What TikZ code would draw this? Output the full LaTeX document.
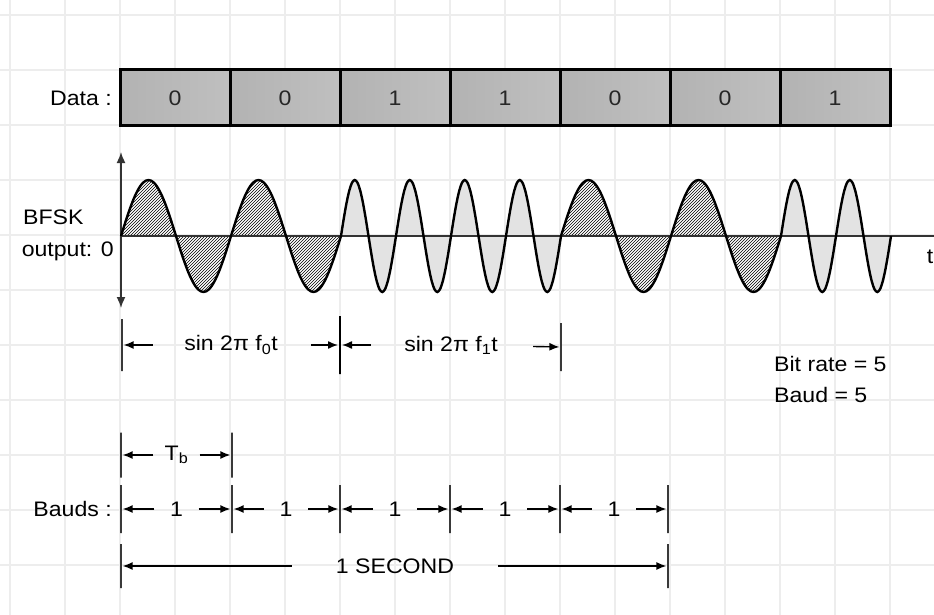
\documentclass[tikz,border=0pt]{standalone}
\usepackage{fontspec}
\setmainfont{Liberation Sans}[FakeStretch=1.1]
\usetikzlibrary{arrows.meta,patterns,calc,positioning}

\tikzset{
  txt/.style={font=\fontsize{21}{24}\selectfont, inner sep=0pt},
  gridline/.style={gray!14, line width=1.2pt},
  bitbox/.style={draw, line width=3pt, minimum width=110pt, minimum height=56pt,
    left color=gray!60, middle color=white, right color=gray!50,
    text=gray!30!black, font=\fontsize{21}{24}\selectfont},
  wave/.style={line width=2.4pt, black},
  lowlobe/.style={pattern=north east lines},
  highlobe/.style={fill=gray!22},
  axis/.style={line width=1.6pt, gray!40!black},
  tickbar/.style={draw, gray!45!black, line width=1.3pt, minimum width=0pt, inner sep=0pt},
  dim/.style={-{Latex[length=10pt,width=8pt]}, line width=1.4pt, shorten >=1pt}
}

\begin{document}
\begin{tikzpicture}[x=1pt,y=-1pt]
\useasboundingbox (0,0) rectangle (934,615);
\fill[white] (0,0) rectangle (934,615);

% background grid
\foreach \gx in {10,65,...,890} \draw[gridline] (\gx,0) -- (\gx,615);
\foreach \gy in {15,70,...,600} \draw[gridline] (0,\gy) -- (934,\gy);

% data bits
\node[txt, anchor=east] (datalbl) at (112,98) {Data :};
\foreach \b [count=\i from 0] in {0,0,1,1,0,0,1}
  \node[bitbox] (d\i) at (175+110*\i,98) {\b};

% BFSK waveform
\foreach \b [count=\i from 0] in {0,0,1,1,0,0,1} {
  \pgfmathsetmacro{\xk}{121+110*\i}
  \pgfmathsetmacro{\nc}{\b+1}
  \ifnum\b=0 \def\lobe{lowlobe}\else\def\lobe{highlobe}\fi
  \path[\lobe] plot[domain=0:110,samples=41,smooth] ({\xk+\x},{236-56*sin(\x/110*360*\nc)}) -- cycle;
}
\coordinate (o) at (121,236);
\coordinate (ytop) at (121,152);
\coordinate (ybot) at (121,308);
\coordinate (tend) at (934,236);
\draw[axis, {Latex[length=11pt,width=9pt]}-{Latex[length=11pt,width=9pt]}] (ybot) -- (ytop);
\draw[axis] (o) -- (tend);
\foreach \b [count=\i from 0] in {0,0,1,1,0,0,1} {
  \pgfmathsetmacro{\xk}{121+110*\i}
  \pgfmathsetmacro{\nc}{\b+1}
  \draw[wave] plot[domain=0:110,samples=41,smooth] ({\xk+\x},{236-56*sin(\x/110*360*\nc)});
}
\node[txt] (tlbl) at (930,257) {t};
\node[txt, anchor=west] (bfsk) at (23,217) {BFSK};
\node[txt, anchor=east] (outlbl) at (114,251) {output: 0};

% carrier intervals
\node[tickbar, minimum height=52pt] (k0) at (122,345) {};
\node[tickbar, minimum height=58pt, line width=2pt, black] (k1) at (340,345) {};
\node[tickbar, minimum height=48pt] (k2) at (561,347) {};
\node[txt, minimum width=110pt] (f0) at (231,345) {sin 2π f\textsubscript{0}t};
\node[txt, minimum width=110pt] (f1) at (451,345) {sin 2π f\textsubscript{1}t};
\draw[dim, shorten <=23pt] (f0) -- (k0);
\draw[dim, shorten <=25pt] (f0) -- (k1);
\draw[dim, shorten <=25pt] (f1) -- (k1);
\draw[dim, shorten <=27pt] (f1) -- (k2);

\node[txt, anchor=west] (bitrate) at (774,364) {Bit rate = 5};
\node[txt, anchor=west] (baud) at (774,395) {Baud = 5};

% bit time
\node[tickbar, minimum height=45pt] (tb0) at (121,455) {};
\node[tickbar, minimum height=45pt] (tb1) at (232,455) {};
\node[txt, minimum width=46pt] (tb) at ($(tb0)!0.5!(tb1)$) {T\textsubscript{b}};
\draw[dim] (tb) -- (tb0);
\draw[dim] (tb) -- (tb1);

% bauds
\node[txt, anchor=east] (baudslbl) at (112,509) {Bauds :};
\foreach \xt [count=\i from 0] in {121,232,340,450,560,668}
  \node[tickbar, minimum height=48pt] (b\i) at (\xt,509) {};
\foreach \i/\j in {0/1,1/2,2/3,3/4,4/5} {
  \node[txt, minimum width=44pt] (u\i) at ($(b\i)!0.5!(b\j)$) {1};
  \draw[dim] (u\i) -- (b\i);
  \draw[dim] (u\i) -- (b\j);
}

% one second
\node[tickbar, minimum height=44pt] (s0) at (121,566) {};
\node[tickbar, minimum height=44pt] (s1) at (668,566) {};
\node[txt, minimum width=206pt] (sec) at (395,566) {1 SECOND};
\draw[dim] (sec) -- (s0);
\draw[dim] (sec) -- (s1);
\end{tikzpicture}
\end{document}
